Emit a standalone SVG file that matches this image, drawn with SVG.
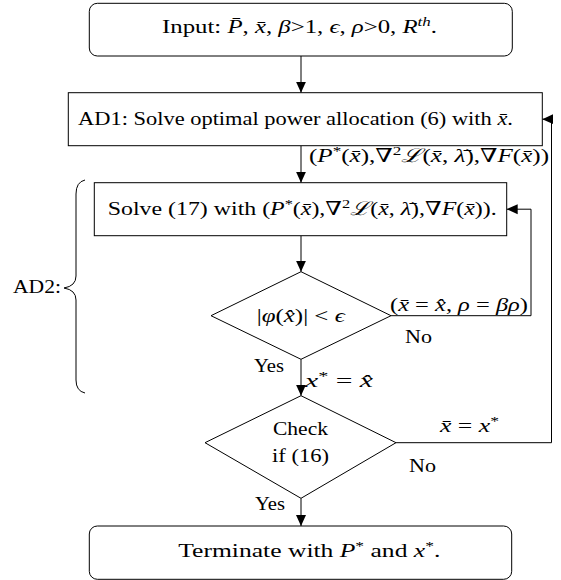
<svg xmlns="http://www.w3.org/2000/svg" width="561" height="580" viewBox="0 0 561 580">
<defs>
<style>
text{font-family:"Liberation Serif","DejaVu Serif",serif;font-size:19px;fill:#000}
.i{font-style:italic}
.s{font-size:13px}
.box{fill:#fff;stroke:#000;stroke-width:1}
.ln{fill:none;stroke:#000;stroke-width:1}
</style>
<marker id="ah" markerUnits="userSpaceOnUse" markerWidth="12" markerHeight="12" refX="11" refY="5.5" orient="auto">
<path d="M0,0.5 L11,5.5 L0,10.5 z" fill="#000"/>
</marker>
</defs>
<rect width="561" height="580" fill="#fff"/>

<g id="connectors">
<path class="ln" d="M301,56 V92.7" marker-end="url(#ah)"/>
<path class="ln" d="M301,145.7 V182.7" marker-end="url(#ah)"/>
<path class="ln" d="M301,235.7 V271.7" marker-end="url(#ah)"/>
<path class="ln" d="M301,359.3 V395.7" marker-end="url(#ah)"/>
<path class="ln" d="M301,498.3 V526" marker-end="url(#ah)"/>
<path class="ln" d="M391,315.7 H531 V209.2 H506.7" marker-end="url(#ah)"/>
<path class="ln" d="M396,442.7 H551.5 V119.2 H542.3" marker-end="url(#ah)"/>
<text x="309" y="162" textLength="240" lengthAdjust="spacingAndGlyphs">(<tspan class="i">P</tspan><tspan class="s" dy="-7">*</tspan><tspan dy="7">(</tspan><tspan class="i">x̄</tspan>),∇<tspan class="s" dy="-7">2</tspan><tspan class="i" dy="7">ℒ</tspan>(<tspan class="i">x̄</tspan>, <tspan class="i">λ̄</tspan>),∇<tspan class="i">F</tspan>(<tspan class="i">x̄</tspan>))</text>
<text x="390" y="311" textLength="138" lengthAdjust="spacingAndGlyphs">(<tspan class="i">x̄</tspan> = <tspan class="i">x̂</tspan>, <tspan class="i">ρ</tspan> = <tspan class="i">βρ</tspan>)</text>
<text x="405" y="343" textLength="27" lengthAdjust="spacingAndGlyphs">No</text>
<text x="254" y="372" textLength="30" lengthAdjust="spacingAndGlyphs">Yes</text>
<text x="305" y="387" textLength="68" lengthAdjust="spacingAndGlyphs"><tspan class="i">x</tspan><tspan class="s" dy="-7">*</tspan><tspan dy="7"> = </tspan><tspan class="i">x̂</tspan></text>
<text x="440" y="432" textLength="59" lengthAdjust="spacingAndGlyphs"><tspan class="i">x̄</tspan> = <tspan class="i">x</tspan><tspan class="s" dy="-7">*</tspan></text>
<text x="409" y="472" textLength="27" lengthAdjust="spacingAndGlyphs">No</text>
<text x="255" y="510" textLength="30" lengthAdjust="spacingAndGlyphs">Yes</text>
</g>

<g id="input">
<rect class="box" x="89.3" y="3.3" width="423" height="52.7" rx="8"/>
<text x="162" y="33" textLength="275" lengthAdjust="spacingAndGlyphs">Input:  <tspan class="i">P̄</tspan>, <tspan class="i">x̄</tspan>, <tspan class="i">β</tspan>&gt;1, <tspan class="i">ϵ</tspan>, <tspan class="i">ρ</tspan>&gt;0, <tspan class="i">R</tspan><tspan class="s i" dy="-7">th</tspan><tspan dy="7">.</tspan></text>
</g>

<g id="ad1">
<rect class="box" x="68.3" y="92.7" width="474" height="53"/>
<text x="78" y="125" textLength="435" lengthAdjust="spacingAndGlyphs">AD1:  Solve optimal power allocation (6) with <tspan class="i">x̄</tspan>.</text>
</g>

<g id="ad2-brace">
<path class="ln" d="M85,180 Q76,182 76,194 V276 Q76,286 64,288 Q76,290 76,300 V380 Q76,391 85,393"/>
<text x="13" y="293" textLength="48" lengthAdjust="spacingAndGlyphs">AD2:</text>
</g>

<g id="solve17">
<rect class="box" x="94.3" y="182.7" width="412.4" height="53"/>
<text x="107.7" y="215" textLength="389" lengthAdjust="spacingAndGlyphs">Solve (17) with (<tspan class="i">P</tspan><tspan class="s" dy="-7">*</tspan><tspan dy="7">(</tspan><tspan class="i">x̄</tspan>),∇<tspan class="s" dy="-7">2</tspan><tspan class="i" dy="7">ℒ</tspan>(<tspan class="i">x̄</tspan>, <tspan class="i">λ̄</tspan>),∇<tspan class="i">F</tspan>(<tspan class="i">x̄</tspan>)).</text>
</g>

<g id="check-phi">
<polygon class="box" points="301,271.7 391,315.7 301,359.3 211,315.7"/>
<text x="256.7" y="322" textLength="88" lengthAdjust="spacingAndGlyphs">|<tspan class="i">φ</tspan>(<tspan class="i">x̂</tspan>)| &lt; <tspan class="i">ϵ</tspan></text>
</g>

<g id="check16">
<polygon class="box" points="301,395.7 396,442.7 301,498.3 205,442.7"/>
<text x="273" y="435" textLength="55" lengthAdjust="spacingAndGlyphs">Check</text>
<text x="272" y="462" textLength="57" lengthAdjust="spacingAndGlyphs">if (16)</text>
</g>

<g id="terminate">
<rect class="box" x="89.3" y="526" width="422.4" height="53.3" rx="8"/>
<text x="178.3" y="557" textLength="262" lengthAdjust="spacingAndGlyphs">Terminate with <tspan class="i">P</tspan><tspan class="s" dy="-7">*</tspan><tspan dy="7"> and </tspan><tspan class="i">x</tspan><tspan class="s" dy="-7">*</tspan><tspan dy="7">.</tspan></text>
</g>
</svg>
